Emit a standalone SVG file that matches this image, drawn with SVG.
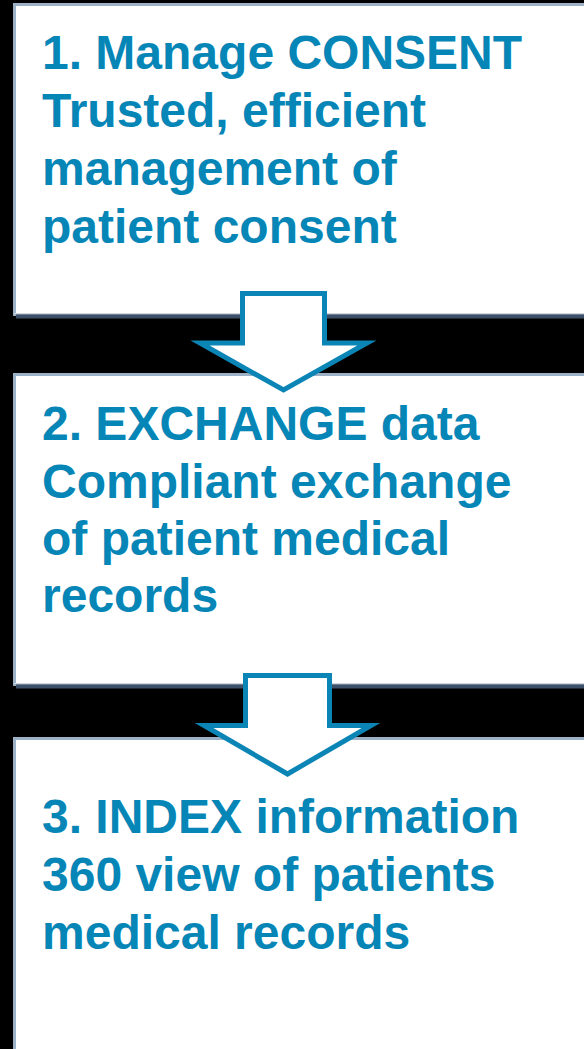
<svg xmlns="http://www.w3.org/2000/svg" width="584" height="1049" viewBox="0 0 584 1049">
<style>
.bg{fill:#000}
.box{fill:#fff;stroke:#9db1c6;stroke-width:3}
.shadow{stroke:#3e5068;stroke-width:4}
.hl{stroke:#d4d8dc;stroke-width:1}
.arrow{fill:#fff;stroke:#0a85b5;stroke-width:5;stroke-linejoin:miter;stroke-miterlimit:10}
.t{font-family:"Liberation Sans",Arial,sans-serif;font-weight:bold;font-size:48px;fill:#0686b6}
</style>
<rect class="bg" x="0" y="0" width="584" height="1049"/>
<g id="node1">
<rect class="box" x="14.5" y="4.5" width="600" height="310"/>
<line class="hl" x1="14" y1="313.5" x2="600" y2="313.5"/>
<line class="shadow" x1="16" y1="316.5" x2="600" y2="316.5"/>
<text class="t" x="42" y="69">1. Manage CONSENT</text>
<text class="t" x="42" y="127">Trusted, efficient</text>
<text class="t" x="42" y="185">management of</text>
<text class="t" x="42" y="243">patient consent</text>
</g>
<g id="node2">
<rect class="box" x="14.5" y="374.5" width="600" height="310"/>
<line class="hl" x1="14" y1="683.5" x2="600" y2="683.5"/>
<line class="shadow" x1="16" y1="686.5" x2="600" y2="686.5"/>
<text class="t" x="42" y="440">2. EXCHANGE data</text>
<text class="t" x="42" y="498">Compliant exchange</text>
<text class="t" x="42" y="555">of patient medical</text>
<text class="t" x="42" y="612">records</text>
</g>
<g id="node3">
<rect class="box" x="14.5" y="738.5" width="600" height="330"/>
<text class="t" x="42" y="833">3. INDEX information</text>
<text class="t" x="42" y="891">360 view of patients</text>
<text class="t" x="42" y="949">medical records</text>
</g>
<g id="connectors">
<polygon class="arrow" points="242.5,293.5 324.5,293.5 324.5,343 367,343 283.5,390 200,343 242.5,343"/>
<polygon class="arrow" points="245.5,675.5 329.5,675.5 329.5,725.5 371,725.5 287.5,774 204,725.5 245.5,725.5"/>
</g>
</svg>
